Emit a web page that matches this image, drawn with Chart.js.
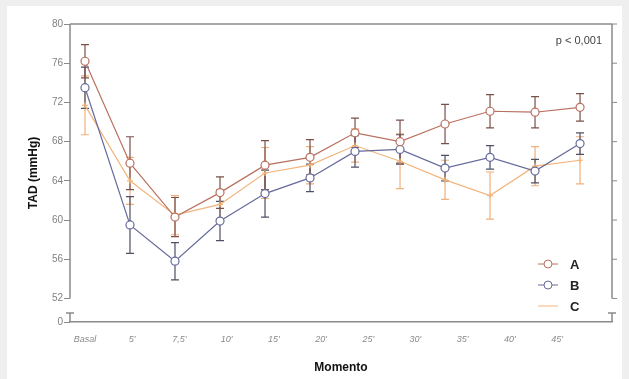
<!DOCTYPE html>
<html lang="pt">
<head>
<meta charset="UTF-8">
<title>TAD por momento</title>
<style>
body {
    margin: 0;
    padding: 0;
    background-color: #efefef;
    font-family: 'Liberation Sans', Arial, sans-serif;
}
#card {
    position: absolute;
    left: 7px;
    top: 6px;
    width: 615px;
    height: 373px;
    background-color: #fff;
}
</style>
</head>
<body>
<div id="card">
    <canvas id="tadChart"></canvas>
</div>

<script src="https://cdn.jsdelivr.net/npm/chart.js"></script>
<script>
// categories (x labels) and measuring points
const moments = ["Basal", "5'", "7,5'", "10'", "15'", "20'", "25'", "30'", "35'", "40'", "45'"];
const pointIndex = [0, 1, 2, 3, 4, 5, 6, 7, 8, 9, 10, 11];

// series values (mmHg) and error bars
const seriesA = [76.2, 65.8, 60.3, 62.8, 65.6, 66.4, 68.9, 68.0, 69.8, 71.1, 71.0, 71.5];
const errA    = [1.7, 2.7, 2.0, 1.6, 2.5, 1.8, 1.5, 2.2, 2.0, 1.7, 1.6, 1.4];
const seriesB = [73.5, 59.5, 55.8, 59.9, 62.7, 64.3, 67.0, 67.2, 65.3, 66.4, 65.0, 67.8];
const errB    = [2.1, 2.9, 1.9, 2.0, 2.4, 1.4, 1.6, 1.5, 1.3, 1.2, 1.2, 1.1];
const seriesC = [71.7, 64.0, 60.5, 61.6, 64.8, 65.6, 67.6, 66.0, 64.1, 62.5, 65.5, 66.1];
const errC    = [3.0, 2.4, 2.0, 1.5, 2.6, 1.9, 1.7, 2.8, 2.0, 2.4, 2.0, 2.4];

// y axis ticks (broken axis: bottom tick is shown as 0)
const yTicks = [52, 56, 60, 64, 68, 72, 76, 80];
const yBreakValue = 49.6;
const yBreakLabel = '0';
const pValueText = 'p < 0,001';

const seriesNames = ['A', 'B', 'C'];
const lineColors = ['#b8705f', '#666a9c', '#f2b57a'];
const barColors = ['#7a5048', '#4e5066', '#f0b07a'];
const allErrors = [errA, errB, errC];

function toPoints(values) {
    return values.map((v, i) => ({ x: pointIndex[i], y: v }));
}

// error bars drawn under the lines
const errorBars = {
    id: 'errorBars',
    beforeDatasetsDraw(chart) {
        const ctx = chart.ctx;
        const xs = chart.scales.x, ys = chart.scales.y;
        ctx.save();
        ctx.lineWidth = 1.2;
        [2, 1, 0].forEach(d => {
            const ds = chart.data.datasets[d];
            ctx.strokeStyle = barColors[d];
            ds.data.forEach((p, i) => {
                const e = allErrors[d][i];
                const px = xs.getPixelForValue(p.x);
                const top = ys.getPixelForValue(p.y + e);
                const bot = ys.getPixelForValue(p.y - e);
                ctx.beginPath();
                ctx.moveTo(px, top); ctx.lineTo(px, bot);
                ctx.moveTo(px - 4, top); ctx.lineTo(px + 4, top);
                ctx.moveTo(px - 4, bot); ctx.lineTo(px + 4, bot);
                ctx.stroke();
            });
        });
        ctx.restore();
    }
};

// frame, broken axis marks, right ticks, legend and p-value
const decorations = {
    id: 'decorations',
    afterDraw(chart) {
        const ctx = chart.ctx;
        const a = chart.chartArea;
        const ys = chart.scales.y;
        const y52 = ys.getPixelForValue(yTicks[0]);
        const yBreak = a.bottom - 9;
        ctx.save();
        ctx.strokeStyle = '#8a8a8a';
        ctx.lineWidth = 1.5;
        // top line
        ctx.beginPath();
        ctx.moveTo(a.left, a.top); ctx.lineTo(a.right, a.top);
        ctx.stroke();
        // left and right axes with break
        [a.left, a.right].forEach(x => {
            ctx.beginPath();
            ctx.moveTo(x, a.top); ctx.lineTo(x, y52);
            ctx.moveTo(x, yBreak); ctx.lineTo(x, a.bottom);
            ctx.moveTo(x - 4, yBreak); ctx.lineTo(x + 4, yBreak);
            ctx.stroke();
        });
        // right ticks
        ctx.lineWidth = 1;
        yTicks.forEach(v => {
            const py = ys.getPixelForValue(v);
            ctx.beginPath();
            ctx.moveTo(a.right, py); ctx.lineTo(a.right + 5, py);
            ctx.stroke();
        });
        // p-value
        ctx.fillStyle = '#444';
        ctx.font = '11px "Liberation Sans", Arial, sans-serif';
        ctx.textAlign = 'right';
        ctx.textBaseline = 'middle';
        ctx.fillText(pValueText, a.right - 10, a.top + 17);
        // legend
        const lx = a.left + 478, ly = a.top + 240;
        chart.data.datasets.forEach((ds, d) => {
            const y = ly + d * 21;
            ctx.strokeStyle = lineColors[d];
            ctx.lineWidth = 1;
            ctx.beginPath();
            ctx.moveTo(lx - 10, y); ctx.lineTo(lx + 10, y);
            ctx.stroke();
            if (d < 2) {
                ctx.fillStyle = '#fff';
                ctx.beginPath();
                ctx.arc(lx, y, 4, 0, Math.PI * 2);
                ctx.fill(); ctx.stroke();
            }
            ctx.fillStyle = '#222';
            ctx.font = 'bold 13px "Liberation Sans", Arial, sans-serif';
            ctx.textAlign = 'left';
            ctx.fillText(seriesNames[d], lx + 22, y + 1);
        });
        ctx.restore();
    }
};

const ctx = document.getElementById('tadChart').getContext('2d');
new Chart(ctx, {
    type: 'line',
    data: {
        datasets: [
            { label: seriesNames[0], data: toPoints(seriesA), borderColor: lineColors[0], backgroundColor: '#fff',
              borderWidth: 1.2, pointRadius: 4, pointBorderWidth: 1.2, pointStyle: 'circle', order: 1 },
            { label: seriesNames[1], data: toPoints(seriesB), borderColor: lineColors[1], backgroundColor: '#fff',
              borderWidth: 1.2, pointRadius: 4, pointBorderWidth: 1.2, pointStyle: 'circle', order: 2 },
            { label: seriesNames[2], data: toPoints(seriesC), borderColor: lineColors[2], backgroundColor: lineColors[2],
              borderWidth: 1.2, pointRadius: 3, pointStyle: 'cross', order: 3 }
        ]
    },
    options: {
        responsive: true,
        maintainAspectRatio: false,
        animation: false,
        layout: { padding: { left: 0, right: 10, top: 18, bottom: 0 } },
        plugins: {
            legend: { display: false },
            tooltip: { enabled: false }
        },
        scales: {
            x: {
                type: 'linear',
                min: -0.333,
                max: 11.71,
                afterBuildTicks: axis => {
                    axis.ticks = moments.map((m, i) => ({ value: i * 1.049 }));
                },
                afterFit: axis => { axis.height = 57; },
                ticks: {
                    callback: (v, i) => moments[i],
                    color: '#8a8a8a',
                    font: { size: 9, family: 'Liberation Sans', style: 'italic' },
                    padding: 12,
                    maxRotation: 0,
                    autoSkip: false
                },
                grid: { display: false, drawTicks: false },
                border: { display: true, color: '#8a8a8a', width: 1.5 },
                title: {
                    display: true,
                    text: 'Momento',
                    color: '#111',
                    font: { size: 12, weight: 'bold', family: 'Liberation Sans' },
                    padding: { top: 0, bottom: 4 }
                }
            },
            y: {
                min: yBreakValue,
                max: 80,
                afterBuildTicks: axis => {
                    axis.ticks = [{ value: yBreakValue }].concat(yTicks.map(v => ({ value: v })));
                },
                afterFit: axis => { axis.width = 63; },
                ticks: {
                    callback: v => (v === yBreakValue ? yBreakLabel : v),
                    color: '#808080',
                    font: { size: 10, family: 'Liberation Sans' },
                    padding: 1
                },
                grid: { drawOnChartArea: false, tickLength: 6, color: '#8a8a8a' },
                border: { display: false },
                title: {
                    display: true,
                    text: 'TAD (mmHg)',
                    color: '#111',
                    font: { size: 12, weight: 'bold', family: 'Liberation Sans' },
                    padding: { top: 19, bottom: 0 }
                }
            }
        }
    },
    plugins: [errorBars, decorations]
});
</script>
</body>
</html>
